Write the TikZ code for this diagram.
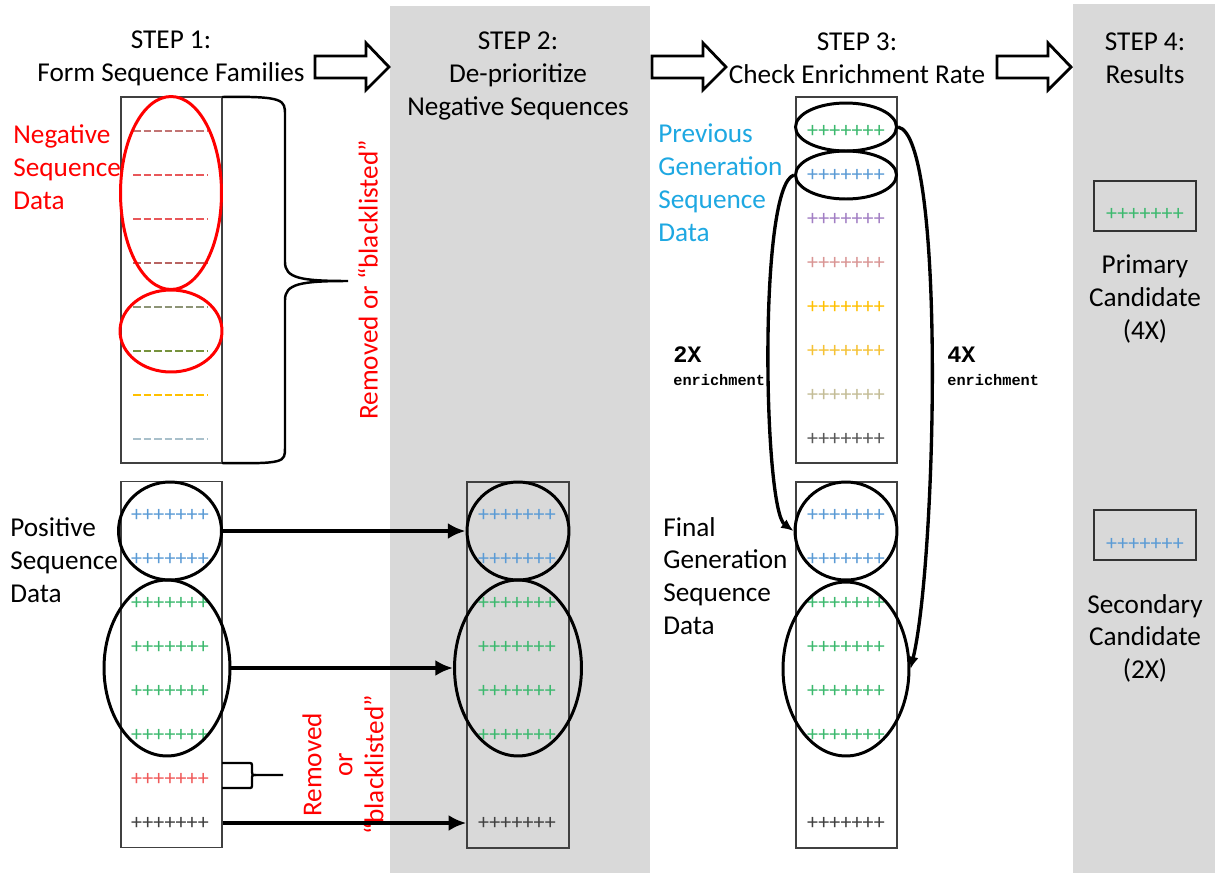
\documentclass[tikz,border=0pt]{standalone}
\usepackage{fontspec}
\setmainfont{Carlito}
\newfontfamily\enrichfont{Liberation Mono}
\usepackage{xcolor}
\usepackage{tikz}
\usetikzlibrary{arrows.meta, shapes.geometric, positioning}

\definecolor{panelgray}{HTML}{D9D9D9}
\definecolor{labelred}{HTML}{FF0000}
\definecolor{labelblue}{HTML}{1EA8E2}
\definecolor{dashrose}{HTML}{C27473}
\definecolor{dashred}{HTML}{E8585A}
\definecolor{dashbrown}{HTML}{B86462}
\definecolor{dashsage}{HTML}{8D9476}
\definecolor{dasholive}{HTML}{76923C}
\definecolor{dashgold}{HTML}{FFC000}
\definecolor{dashsteel}{HTML}{A9C0CB}
\definecolor{plusgreen}{HTML}{3CB96E}
\definecolor{plusblue}{HTML}{5B9BD5}
\definecolor{pluspurple}{HTML}{A27FC4}
\definecolor{plusrose}{HTML}{D99594}
\definecolor{plusgold}{HTML}{FFC000}
\definecolor{plusamber}{HTML}{F5C236}
\definecolor{plustan}{HTML}{C4BD97}
\definecolor{plusgray}{HTML}{595959}
\definecolor{plusred}{HTML}{F05A5A}
\definecolor{plusdark}{HTML}{404040}

\begin{document}
\begin{tikzpicture}[
    x=0.02cm, y=-0.02cm,
    every node/.style={font=\fontsize{15.5}{18.7}\selectfont, inner sep=0pt},
    seqbox/.style={
        rectangle,
        draw=black!75,
        line width=0.8pt,
        minimum width=2.02cm,
        minimum height=7.32cm
    },
    candbox/.style={
        rectangle,
        draw=black!80,
        line width=1pt,
        minimum width=2.04cm,
        minimum height=1cm
    },
    negloop/.style={ellipse, draw=labelred, line width=1.7pt},
    posloop/.style={ellipse, draw=black, line width=1.7pt},
    negrow/.style={line width=1.1pt, dash pattern=on 4.3pt off 1.7pt},
    plusrow/.style={font=\fontsize{12.5}{14}\selectfont},
    sidelabel/.style={anchor=west, align=left},
    blockarrow/.style={draw=black, line width=1.6pt, fill=white},
    bracket/.style={draw=black, line width=1.3pt},
    arrow/.style={line width=2.8pt, -{Latex[length=10pt, width=9pt]}},
    bentarrow/.style={line width=1.9pt, -{Latex[length=7pt, width=6pt]}},
    foldbig/.style={font=\enrichfont\bfseries\fontsize{13.4}{15}\selectfont, anchor=west},
    foldsmall/.style={font=\enrichfont\bfseries\fontsize{8.7}{10}\selectfont, anchor=west}
]

\useasboundingbox (0,0) rectangle (1215,873);
\fill[white] (0,0) rectangle (1215,873);
\fill[panelgray] (390,6) rectangle (650,873);
\fill[panelgray] (1073,4) rectangle (1215,873);

\node (step1) [align=center] at (171,58) {STEP 1:\\Form Sequence Families};
\node (step2) [align=center] at (518,76) {STEP 2:\\De-prioritize\\Negative Sequences};
\node (step3) [align=center] at (857,58) {STEP 3:\\Check Enrichment Rate};
\node (step4) [align=center] at (1145,58) {STEP 4:\\Results};

\foreach \x in {315,652,997}
    \draw[blockarrow] (\x,56) -- ++(51,0) -- ++(0,-13) -- ++(23,24) -- ++(-23,23) -- ++(0,-12) -- ++(-51,0) -- cycle;

% step 1, negative data
\node (negbox) [seqbox] at (171.5,280) {};
\foreach \c [count=\i] in {dashrose,dashred,dashred,dashbrown,dashsage,dasholive,dashgold,dashsteel}
    \draw[negrow, \c] (133,{131+44*(\i-1)}) -- ++(74,0);
\node (negtop) [negloop, minimum width=2.02cm, minimum height=3.86cm] at (171,193) {};
\node (negbot) [negloop, minimum width=2.04cm, minimum height=1.64cm] at (171,331) {};
\node (negtext) [sidelabel, text=labelred] at (13,167) {Negative\\Sequence\\Data};
\draw[bracket, line width=1.4pt] (222,97) .. controls (285,96) and (285,100) .. (285,115) -- (285,262)
    .. controls (285,278) and (300,281) .. (348,281) .. controls (300,281) and (285,284) .. (285,300)
    -- (285,448) .. controls (285,462) and (285,464) .. (222,463);
\node (negcut) [rotate=90, text=labelred] at (368,280) {Removed or “blacklisted”};

% step 1, positive data
\node (posbox) [seqbox] at (171.5,664.5) {};
\foreach \c [count=\i] in {plusblue,plusblue,plusgreen,plusgreen,plusgreen,plusgreen,plusred,plusdark}
    \node (pos\i) [plusrow, text=\c] at (170,{515+44*(\i-1)}) {+++++++};
\node (posfam1) [posloop, minimum width=2.06cm, minimum height=1.96cm] at (170,531) {};
\node (posfam2) [posloop, minimum width=2.52cm, minimum height=3.52cm] at (167,668) {};
\node (postext) [sidelabel] at (10,560) {Positive\\Sequence\\Data};
\draw[bracket] (222,763) -- (248,763) .. controls (252,763) .. (252,767) -- (252,772)
    .. controls (252,775) .. (256,775) -- (283,775);
\draw[bracket] (222,788) -- (248,788) .. controls (252,788) .. (252,784) -- (252,779)
    .. controls (252,775) .. (256,775);
\node (poscut) [rotate=90, text=labelred, align=center, font=\fontsize{15.5}{17.6}\selectfont] at (343,765) {Removed\\or\\“blacklisted”};

% step 2
\node (midbox) [seqbox, minimum width=2.04cm] at (518,665) {};
\foreach \i/\c in {1/plusblue,2/plusblue,3/plusgreen,4/plusgreen,5/plusgreen,6/plusgreen,8/plusdark}
    \node (mid\i) [plusrow, text=\c] at (517,{515+44*(\i-1)}) {+++++++};
\node (midfam1) [posloop, minimum width=2.04cm, minimum height=1.96cm] at (518,531) {};
\node (midfam2) [posloop, minimum width=2.54cm, minimum height=3.52cm] at (518,668) {};

\draw[arrow] (posfam1.east) -- (midfam1.west);
\draw[arrow] (posfam2.east) -- (midfam2.west);
\draw[arrow] (pos8 -| posbox.east) -- (mid8 -| midbox.west);

% step 3
\node (prevbox) [seqbox] at (846.5,280) {};
\foreach \c [count=\i] in {plusgreen,plusblue,pluspurple,plusrose,plusgold,plusamber,plustan,plusgray}
    \node (prev\i) [plusrow, text=\c] at (846,{131+44*(\i-1)}) {+++++++};
\node (prevfam1) [posloop, minimum width=2.02cm, minimum height=0.96cm] at (846,127) {};
\node (prevfam2) [posloop, minimum width=2.02cm, minimum height=0.96cm] at (846,175) {};
\node (prevtext) [sidelabel, text=labelblue] at (658,183) {Previous\\Generation\\Sequence\\Data};

\node (finbox) [seqbox] at (846.5,665) {};
\foreach \i/\c in {1/plusblue,2/plusblue,3/plusgreen,4/plusgreen,5/plusgreen,6/plusgreen,8/plusdark}
    \node (fin\i) [plusrow, text=\c] at (846,{515+44*(\i-1)}) {+++++++};
\node (finfam1) [posloop, minimum width=2.04cm, minimum height=1.96cm] at (846,531) {};
\node (finfam2) [posloop, minimum width=2.52cm, minimum height=3.48cm] at (846,669) {};
\node (fintext) [sidelabel] at (663,576) {Final\\Generation\\Sequence\\Data};

\draw[bentarrow] (prevfam2.west) .. controls +(-36,10) and +(-30,-22) .. (finfam1.west);
\draw[bentarrow] (prevfam1.east) .. controls +(48,8) and +(26,-108) .. (finfam2.east);

\node (twox) [foldbig] at (673,355) {2X};
\node (twoxsub) [foldsmall] at (673,380) {enrichment};
\node (fourx) [foldbig] at (947,355) {4X};
\node (fourxsub) [foldsmall] at (947,380) {enrichment};

% step 4
\node (candA) [candbox] at (1145,206) {};
\node (candAseq) [plusrow, text=plusgreen] at (1145,214) {+++++++};
\node (candAtext) [align=center, below=0.45cm of candA] {Primary\\Candidate\\(4X)};
\node (candB) [candbox] at (1145,535) {};
\node (candBseq) [plusrow, text=plusblue] at (1145,544) {+++++++};
\node (candBtext) [align=center, below=0.66cm of candB] {Secondary\\Candidate\\(2X)};

\end{tikzpicture}
\end{document}
